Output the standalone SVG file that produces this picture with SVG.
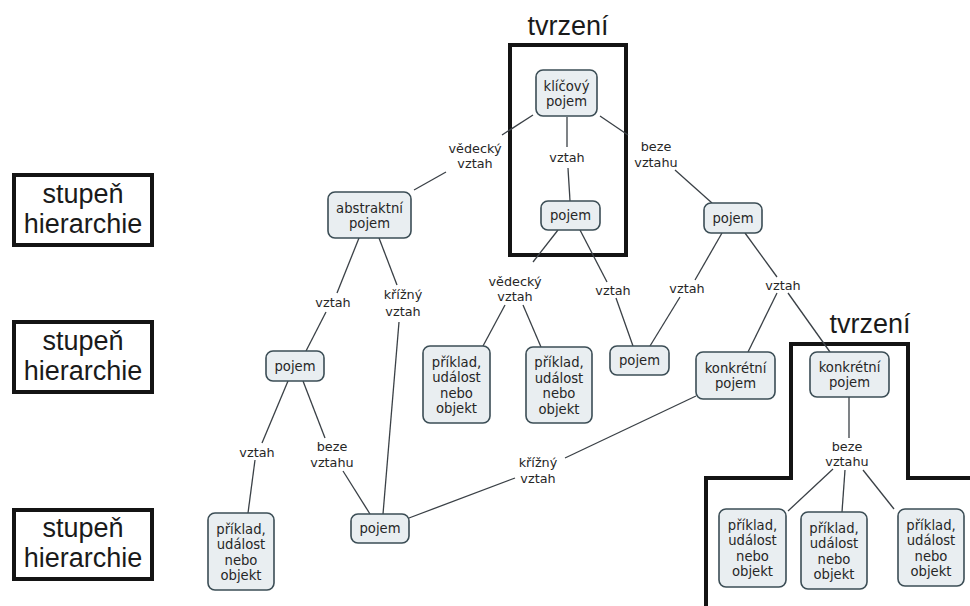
<svg xmlns="http://www.w3.org/2000/svg" width="970" height="606" viewBox="0 0 970 606">
  <style>
    .node rect { fill: #e9eef1; stroke: #3b4d55; stroke-width: 1.6; }
    .node text { font-family: "DejaVu Sans", Verdana, sans-serif; font-size: 13.2px; fill: #262626; text-anchor: middle; }
    .lbl { font-family: "DejaVu Sans", Verdana, sans-serif; font-size: 12.8px; fill: #262626; text-anchor: middle; }
    .edge { stroke: #3a4046; stroke-width: 1.3; fill: none; }
    .frame { fill: none; stroke: #141414; stroke-width: 4; }
    .big { font-family: "Liberation Sans", Arial, sans-serif; font-size: 27px; fill: #1a1a1a; text-anchor: middle; }
  </style>

  <rect width="970" height="606" fill="#ffffff"/>

  <!-- hierarchy level captions -->
  <g id="level1">
    <rect class="frame" x="14" y="175" width="138" height="70"/>
    <text class="big" x="83" y="203">stupeň</text>
    <text class="big" x="83" y="233">hierarchie</text>
  </g>
  <g id="level2">
    <rect class="frame" x="14" y="322" width="138" height="70"/>
    <text class="big" x="83" y="350">stupeň</text>
    <text class="big" x="83" y="380">hierarchie</text>
  </g>
  <g id="level3">
    <rect class="frame" x="14" y="510" width="138" height="69"/>
    <text class="big" x="83" y="537">stupeň</text>
    <text class="big" x="83" y="567">hierarchie</text>
  </g>

  <!-- statement frames -->
  <g id="statement1">
    <rect class="frame" x="510" y="45" width="116" height="210"/>
    <text class="big" x="568" y="35" font-size="26">tvrzení</text>
  </g>
  <g id="statement2">
    <polyline class="frame" points="706,606 706,478 791,478 791,344 908,344 908,478 970,478"/>
    <text class="big" x="870" y="333" font-size="26">tvrzení</text>
  </g>

  <!-- connectors -->
  <g id="connectors">
    <line class="edge" x1="533" y1="115" x2="502" y2="135"/>
    <line class="edge" x1="446" y1="172" x2="414" y2="190"/>
    <line class="edge" x1="567" y1="117" x2="567" y2="147"/>
    <line class="edge" x1="568" y1="168" x2="570" y2="201"/>
    <line class="edge" x1="600" y1="116" x2="628" y2="135"/>
    <line class="edge" x1="675" y1="170" x2="712" y2="203"/>

    <line class="edge" x1="359" y1="238" x2="337" y2="293"/>
    <line class="edge" x1="326" y1="312" x2="306" y2="351"/>
    <line class="edge" x1="379" y1="238" x2="397" y2="285"/>
    <line class="edge" x1="399" y1="322" x2="383" y2="514"/>

    <line class="edge" x1="288" y1="381" x2="262" y2="443"/>
    <line class="edge" x1="255" y1="460" x2="248" y2="513"/>
    <line class="edge" x1="303" y1="381" x2="325" y2="438"/>
    <line class="edge" x1="343" y1="471" x2="370" y2="514"/>

    <line class="edge" x1="409" y1="518" x2="515" y2="478"/>
    <line class="edge" x1="565" y1="458" x2="696" y2="396"/>

    <line class="edge" x1="558" y1="230" x2="533" y2="262"/>
    <line class="edge" x1="505" y1="305" x2="483" y2="346"/>
    <line class="edge" x1="523" y1="305" x2="541" y2="347"/>
    <line class="edge" x1="580" y1="230" x2="607" y2="282"/>
    <line class="edge" x1="616" y1="298" x2="633" y2="346"/>

    <line class="edge" x1="722" y1="233" x2="695" y2="280"/>
    <line class="edge" x1="680" y1="297" x2="650" y2="346"/>
    <line class="edge" x1="745" y1="233" x2="777" y2="277"/>
    <line class="edge" x1="777" y1="293" x2="748" y2="352"/>
    <line class="edge" x1="788" y1="293" x2="830" y2="352"/>

    <line class="edge" x1="849" y1="397" x2="849" y2="438"/>
    <line class="edge" x1="833" y1="469" x2="788" y2="511"/>
    <line class="edge" x1="845" y1="470" x2="842" y2="512"/>
    <line class="edge" x1="863" y1="470" x2="894" y2="509"/>
  </g>

  <!-- link phrases -->
  <g id="link-labels">
    <text class="lbl" x="475" y="153">vědecký</text>
    <text class="lbl" x="475" y="168">vztah</text>
    <text class="lbl" x="567" y="161.5">vztah</text>
    <text class="lbl" x="656" y="151">beze</text>
    <text class="lbl" x="656" y="167">vztahu</text>
    <text class="lbl" x="333" y="306.5">vztah</text>
    <text class="lbl" x="403" y="299">křížný</text>
    <text class="lbl" x="403" y="316">vztah</text>
    <text class="lbl" x="257" y="456.5">vztah</text>
    <text class="lbl" x="332" y="451">beze</text>
    <text class="lbl" x="332" y="467">vztahu</text>
    <text class="lbl" x="538" y="467">křížný</text>
    <text class="lbl" x="538" y="483">vztah</text>
    <text class="lbl" x="515" y="286">vědecký</text>
    <text class="lbl" x="515" y="301">vztah</text>
    <text class="lbl" x="613" y="294.5">vztah</text>
    <text class="lbl" x="687" y="292.5">vztah</text>
    <text class="lbl" x="783" y="289.5">vztah</text>
    <text class="lbl" x="847" y="451">beze</text>
    <text class="lbl" x="847" y="466">vztahu</text>
  </g>

  <!-- concepts -->
  <g id="n-klicovy" class="node">
    <rect x="536" y="70" width="61" height="46" rx="7"/>
    <text x="566.5" y="91">klíčový</text>
    <text x="566.5" y="106">pojem</text>
  </g>
  <g id="n-pojem-top" class="node">
    <rect x="541" y="201" width="59" height="29" rx="7"/>
    <text x="570.5" y="220">pojem</text>
  </g>
  <g id="n-abstraktni" class="node">
    <rect x="328" y="192" width="83" height="46" rx="7"/>
    <text x="369.5" y="212.5">abstraktní</text>
    <text x="369.5" y="228">pojem</text>
  </g>
  <g id="n-pojem-right" class="node">
    <rect x="704" y="203" width="58" height="30" rx="7"/>
    <text x="733" y="222.5">pojem</text>
  </g>
  <g id="n-pojem-left" class="node">
    <rect x="266" y="351" width="58" height="30" rx="7"/>
    <text x="295" y="370.5">pojem</text>
  </g>
  <g id="n-priklad-a" class="node">
    <rect x="423" y="346" width="67" height="77" rx="7"/>
    <text x="456.5" y="366.5">příklad,</text>
    <text x="456.5" y="382">událost</text>
    <text x="456.5" y="397.5">nebo</text>
    <text x="456.5" y="413">objekt</text>
  </g>
  <g id="n-priklad-b" class="node">
    <rect x="526" y="347" width="66" height="76" rx="7"/>
    <text x="559" y="367">příklad,</text>
    <text x="559" y="382.5">událost</text>
    <text x="559" y="398">nebo</text>
    <text x="559" y="413.5">objekt</text>
  </g>
  <g id="n-pojem-mid" class="node">
    <rect x="610" y="346" width="59" height="29" rx="7"/>
    <text x="639.5" y="365">pojem</text>
  </g>
  <g id="n-konkretni-a" class="node">
    <rect x="696" y="352" width="79" height="47" rx="7"/>
    <text x="735.5" y="372.5">konkrétní</text>
    <text x="735.5" y="388">pojem</text>
  </g>
  <g id="n-konkretni-b" class="node">
    <rect x="810" y="352" width="79" height="45" rx="7"/>
    <text x="849.5" y="371.5">konkrétní</text>
    <text x="849.5" y="387">pojem</text>
  </g>
  <g id="n-priklad-c" class="node">
    <rect x="208" y="513" width="66" height="77" rx="7"/>
    <text x="241" y="533.5">příklad,</text>
    <text x="241" y="549">událost</text>
    <text x="241" y="564.5">nebo</text>
    <text x="241" y="580">objekt</text>
  </g>
  <g id="n-pojem-bottom" class="node">
    <rect x="351" y="514" width="58" height="29" rx="7"/>
    <text x="380" y="533">pojem</text>
  </g>
  <g id="n-priklad-d" class="node">
    <rect x="719" y="509" width="67" height="78" rx="7"/>
    <text x="752.5" y="529.5">příklad,</text>
    <text x="752.5" y="545">událost</text>
    <text x="752.5" y="560.5">nebo</text>
    <text x="752.5" y="576">objekt</text>
  </g>
  <g id="n-priklad-e" class="node">
    <rect x="801" y="512" width="66" height="77" rx="7"/>
    <text x="834" y="532.5">příklad,</text>
    <text x="834" y="548">událost</text>
    <text x="834" y="563.5">nebo</text>
    <text x="834" y="579">objekt</text>
  </g>
  <g id="n-priklad-f" class="node">
    <rect x="898" y="509" width="66" height="77" rx="7"/>
    <text x="931" y="529.5">příklad,</text>
    <text x="931" y="545">událost</text>
    <text x="931" y="560.5">nebo</text>
    <text x="931" y="576">objekt</text>
  </g>
</svg>
